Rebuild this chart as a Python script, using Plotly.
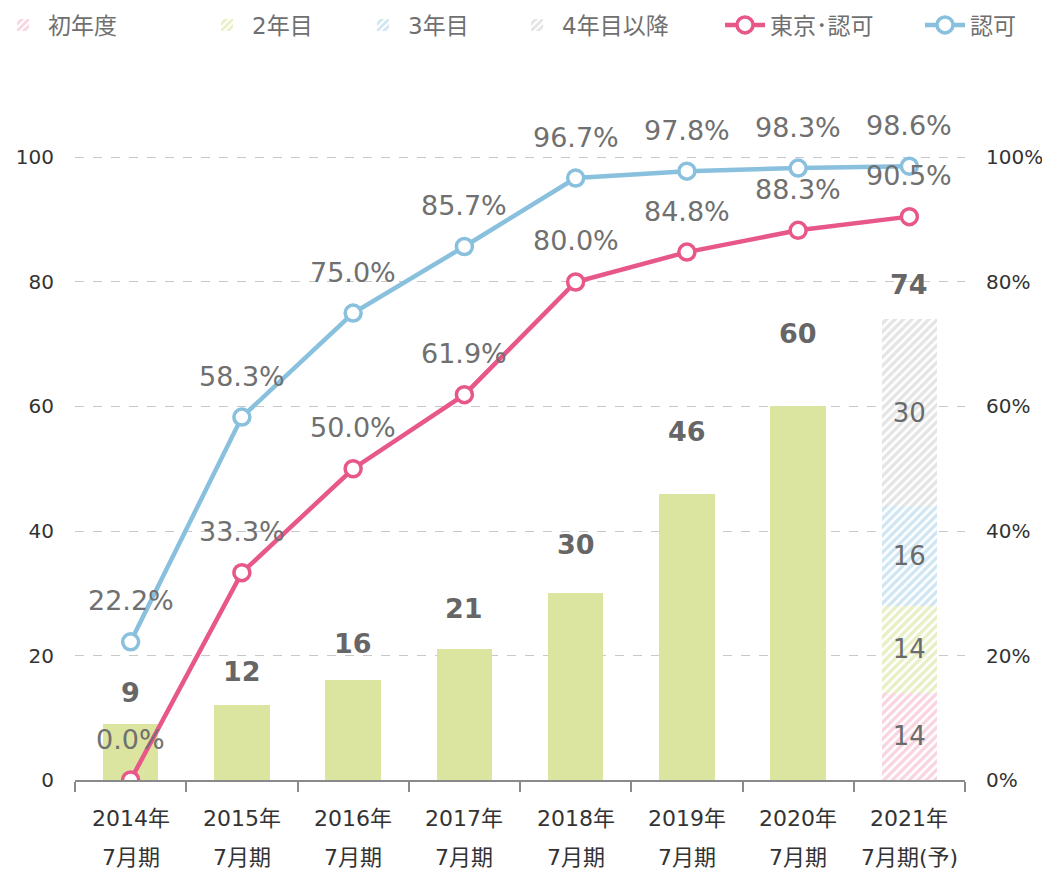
import plotly.graph_objects as go

cat_year = ["2014年", "2015年", "2016年", "2017年", "2018年", "2019年", "2020年", "2021年"]
cat_period = ["7月期", "7月期", "7月期", "7月期", "7月期", "7月期", "7月期", "7月期(予)"]
categories = [f"{a} {b}" for a, b in zip(cat_year, cat_period)]
totals = [9, 12, 16, 21, 30, 46, 60, 74]
breakdown_names = ["初年度", "2年目", "3年目", "4年目以降"]
breakdown_2021 = [14, 14, 16, 30]
tokyo_rate = [0.0, 33.3, 50.0, 61.9, 80.0, 84.8, 88.3, 90.5]
ninka_rate = [22.2, 58.3, 75.0, 85.7, 96.7, 97.8, 98.3, 98.6]
left_ticks = [0, 20, 40, 60, 80, 100]

FONT = "Verdana, 'DejaVu Sans', 'Noto Sans CJK JP', sans-serif"
GREEN = "#dbe59f"
seg_colors = ["#f2a9c2", "#d0df88", "#9fcde6", "#c9c9c9"]
PINK = "#e8578a"
BLUE = "#88c0dd"

W, H = 1042, 862
ML, MR, MT, MB = 67, 85, 147, 90

fig = go.Figure()

fig.add_trace(go.Bar(
    x=categories[:-1], y=totals[:-1], marker=dict(color=GREEN, line=dict(width=0)),
    width=0.5, showlegend=False, hoverinfo="skip"))

legend_ids = ["legend", "legend2", "legend3", "legend4", "legend5", "legend6"]

for k, (name, val, col) in enumerate(zip(breakdown_names, breakdown_2021, seg_colors)):
    fig.add_trace(go.Bar(
        x=[categories[-1]], y=[val], name=name, width=0.5, legend=legend_ids[k],
        marker=dict(color="white", line=dict(width=0),
                    pattern=dict(shape="/", fgcolor=col, bgcolor="white",
                                 size=6, solidity=0.55)),
        text=[str(val)], textposition="inside", insidetextanchor="middle",
        textfont=dict(size=26, color="#6b6b6b", family=FONT)))

fig.add_trace(go.Scatter(
    x=categories, y=tokyo_rate, name="東京･認可", yaxis="y2", mode="lines+markers",
    legend=legend_ids[4], line=dict(color=PINK, width=4.5),
    marker=dict(symbol="circle", size=16, color="white", line=dict(color=PINK, width=3.5))))
fig.add_trace(go.Scatter(
    x=categories, y=ninka_rate, name="認可", yaxis="y2", mode="lines+markers",
    legend=legend_ids[5], line=dict(color=BLUE, width=4.5),
    marker=dict(symbol="circle", size=16, color="white", line=dict(color=BLUE, width=3.5))))

annotations = []
for series in (tokyo_rate, ninka_rate):
    for c, v in zip(categories, series):
        annotations.append(dict(x=c, y=v, yref="y2", text=f"{v:.1f}%", showarrow=False,
                                yshift=41, yanchor="middle",
                                font=dict(size=27, color="#707070", family=FONT)))
for i, (c, v) in enumerate(zip(categories, totals)):
    gap = 35 if i == len(totals) - 1 else 24 + 0.82 * v
    annotations.append(dict(x=c, y=v, yref="y", text=f"<b>{v}</b>", showarrow=False,
                            yshift=gap, yanchor="middle",
                            font=dict(size=27, color="#666666", family=FONT)))
for c, a, b in zip(categories, cat_year, cat_period):
    annotations.append(dict(x=c, y=0, yref="paper", text=a, showarrow=False,
                            yshift=-38, yanchor="middle",
                            font=dict(size=22, color="#333333", family=FONT)))
    annotations.append(dict(x=c, y=0, yref="paper", text=b, showarrow=False,
                            yshift=-77, yanchor="middle",
                            font=dict(size=22, color="#333333", family=FONT)))

plot_w = W - ML - MR
legend_text_px = [40, 244, 400, 554, 762, 962]  # where each legend label begins
legend_layout = {}
for lid, tx in zip(legend_ids, legend_text_px):
    legend_layout[lid] = dict(
        orientation="h", x=(tx - 50 - ML) / plot_w, xanchor="left",
        y=(H - MB - 17) / (H - MT - MB), yanchor="middle",
        font=dict(size=23, color="#707070", family=FONT),
        itemwidth=40, bgcolor="rgba(0,0,0,0)")

fig.update_layout(
    width=W, height=H,
    margin=dict(l=ML, r=MR, t=MT, b=MB, autoexpand=False),
    paper_bgcolor="white", plot_bgcolor="white",
    barmode="stack",
    font=dict(family=FONT, color="#404040"),
    xaxis=dict(type="category", showline=True, linecolor="#8a8a8a", linewidth=2,
               ticks="outside", tickson="boundaries", ticklen=10, tickcolor="#8a8a8a",
               tickwidth=2, showticklabels=False, showgrid=False, automargin=False),
    yaxis=dict(range=[0, 100.4], tickmode="array", tickvals=left_ticks, showgrid=True,
               gridcolor="#c8c8c8", griddash="dash", gridwidth=1, zeroline=False,
               showline=False, tickfont=dict(size=20, color="#333333"), ticks="",
               ticklabelstandoff=20, automargin=False),
    yaxis2=dict(range=[0, 100.4], tickmode="array", tickvals=left_ticks,
                ticktext=[f"{v}%" for v in left_ticks], overlaying="y", side="right",
                showgrid=False, zeroline=False, showline=False, ticks="",
                tickfont=dict(size=20, color="#333333"), ticklabelstandoff=20,
                automargin=False),
    annotations=annotations,
    **legend_layout,
)

fig.write_html("out.html")
